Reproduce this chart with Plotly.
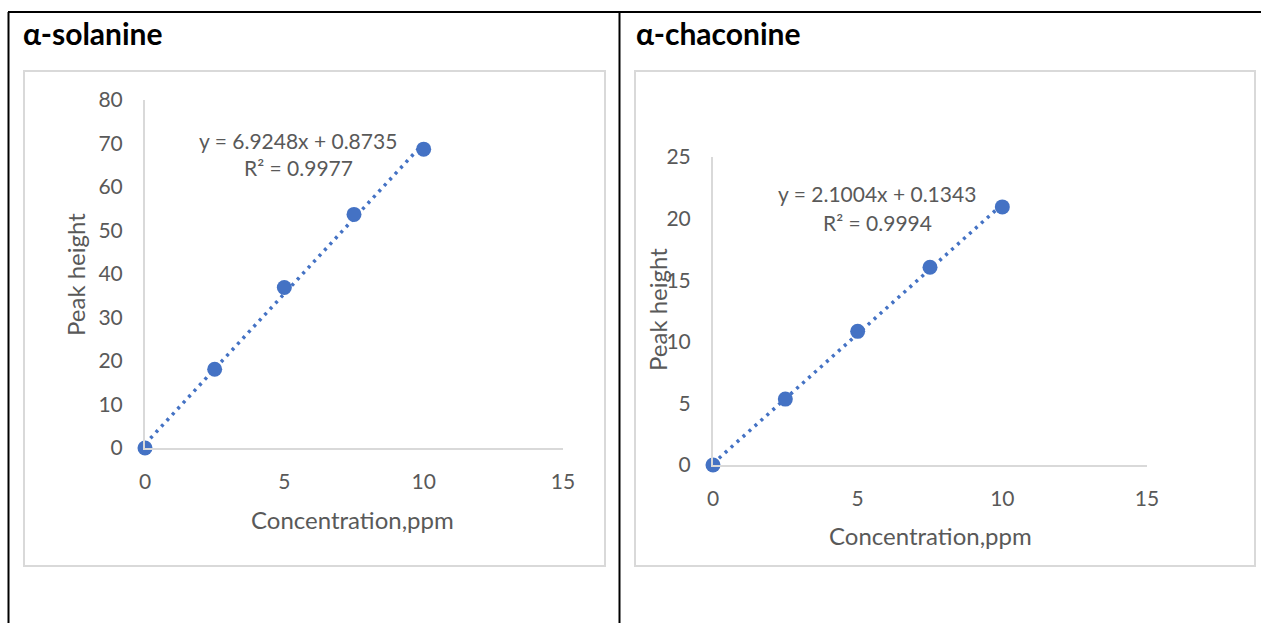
import numpy as np
import plotly.graph_objects as go

W, H = 1261, 623

# ---- data ----
conc = [0, 2.5, 5, 7.5, 10]
solanine_peak = [0, 18.1, 36.9, 53.7, 68.7]
chaconine_peak = [0, 5.35, 10.85, 16.05, 20.95]
x_ticks = [0, 5, 10, 15]
solanine_y_ticks = [0, 10, 20, 30, 40, 50, 60, 70, 80]
chaconine_y_ticks = [0, 5, 10, 15, 20, 25]
panel_titles = ["α-solanine", "α-chaconine"]
equations = ["y = 6.9248x + 0.8735", "y = 2.1004x + 0.1343"]
r_squared = ["R² = 0.9977", "R² = 0.9994"]
x_title = "Concentration,ppm"
y_title = "Peak height"

BLUE = "#4472C4"
GREY_TXT = "#595959"
AXIS = "#d9d9d9"
FONT = "Lato"


def px(x):
    return x / W


def py(y):
    return 1 - y / H


fig = go.Figure()

panels = [
    dict(y=solanine_peak, yticks=solanine_y_ticks, xa="x", ya="y"),
    dict(y=chaconine_peak, yticks=chaconine_y_ticks, xa="x2", ya="y2"),
]

for p in panels:
    slope, icpt = np.polyfit(conc, p["y"], 1)
    xs = [conc[0], conc[-1]]
    fig.add_trace(go.Scatter(
        x=xs, y=[slope * v + icpt for v in xs], mode="lines",
        line=dict(color=BLUE, width=3.5, dash="3px,5px"),
        xaxis=p["xa"], yaxis=p["ya"], showlegend=False, hoverinfo="skip",
        cliponaxis=False))
    fig.add_trace(go.Scatter(
        x=conc, y=p["y"], mode="markers",
        marker=dict(color=BLUE, size=15),
        xaxis=p["xa"], yaxis=p["ya"], showlegend=False, cliponaxis=False))

axis_common = dict(
    showgrid=False, zeroline=False, showline=True, linecolor=AXIS, linewidth=2,
    ticks="", tickfont=dict(family=FONT, size=21, color=GREY_TXT),
    fixedrange=True, automargin=False,
)

fig.update_layout(
    width=W, height=H, autosize=False,
    margin=dict(l=0, r=0, t=0, b=0, pad=0, autoexpand=False),
    showlegend=False,
    paper_bgcolor="white", plot_bgcolor="rgba(0,0,0,0)",
    xaxis=dict(axis_common, domain=[px(145), px(563)], range=[0, 15],
               tickvals=x_ticks, anchor="y", ticklabelstandoff=14),
    yaxis=dict(axis_common, domain=[py(448), py(100)], range=[0, 80],
               tickvals=solanine_y_ticks, anchor="x", ticklabelstandoff=16),
    xaxis2=dict(axis_common, domain=[px(713), px(1147)], range=[0, 15],
                tickvals=x_ticks, anchor="y2", ticklabelstandoff=14),
    yaxis2=dict(axis_common, domain=[py(465), py(157)], range=[0, 25],
                tickvals=chaconine_y_ticks, anchor="x2", ticklabelstandoff=16),
)

shapes = []
# table borders
for x0, y0, x1, y1 in [(8, 12, W, 12), (8.5, 12, 8.5, H), (619.5, 12, 619.5, H)]:
    shapes.append(dict(type="line", xref="paper", yref="paper",
                       x0=px(x0), y0=py(y0), x1=px(x1), y1=py(y1),
                       line=dict(color="black", width=2), layer="below"))
# chart boxes
for x0, y0, x1, y1 in [(24, 71, 605, 566), (635, 71, 1255, 566)]:
    shapes.append(dict(type="rect", xref="paper", yref="paper",
                       x0=px(x0), y0=py(y0), x1=px(x1), y1=py(y1),
                       line=dict(color=AXIS, width=2), layer="below"))
fig.update_layout(shapes=shapes)

ann = []


def text(s, x, y, size, color=GREY_TXT, xanchor="center", bold=False, angle=0):
    ann.append(dict(text=f"<b>{s}</b>" if bold else s, x=px(x), y=py(y),
                    xref="paper", yref="paper", showarrow=False,
                    xanchor=xanchor, yanchor="middle", textangle=angle,
                    font=dict(family=FONT, size=size, color=color)))


text(panel_titles[0], 21, 33, 30, color="black", xanchor="left", bold=True)
text(panel_titles[1], 634, 33, 30, color="black", xanchor="left", bold=True)
text(equations[0], 298, 140, 21)
text(r_squared[0], 298, 167, 21)
text(equations[1], 877, 193, 21)
text(r_squared[1], 877, 222, 21)
text(y_title, 76, 275, 24, angle=-90)
text(y_title, 657, 310, 24, angle=-90)
text(x_title, 352, 519, 24)
text(x_title, 930, 535, 24)
fig.update_layout(annotations=ann)

fig.write_html(
    "out.html",
    post_script="document.body.style.margin='0';document.body.style.overflow='hidden';",
)
